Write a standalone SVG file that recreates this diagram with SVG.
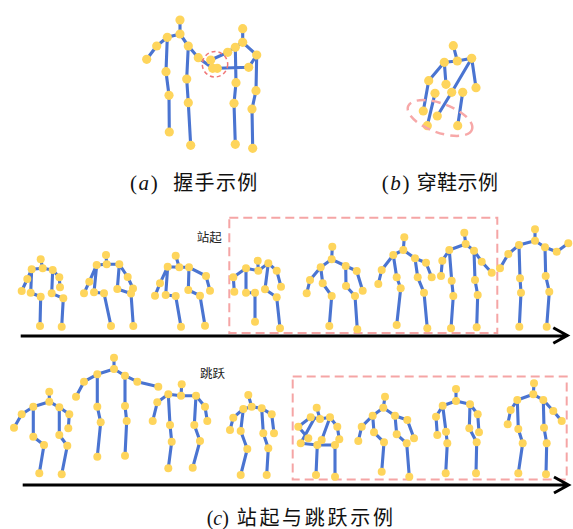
<svg xmlns="http://www.w3.org/2000/svg" width="573" height="529" viewBox="0 0 573 529">
  <style>
    .bone { fill: none; stroke: #4a74d1; stroke-width: 3.1; stroke-linecap: round; stroke-linejoin: round; }
    .j { fill: #fed55c; }
    .box { fill: none; stroke: #f5a5a5; stroke-width: 2; stroke-dasharray: 9 5; }
    .ring { fill: none; stroke: #f07777; stroke-width: 1.5; stroke-dasharray: 4 3; }
    .oval { fill: none; stroke: #f7a8a8; stroke-width: 2.5; stroke-dasharray: 9 6; }
    .axis { fill: none; stroke: #000; stroke-width: 3; }
    .cap { font-size: 20px; fill: #111; }
    .lat { font-family: "Liberation Serif", "DejaVu Serif", serif; font-size: 21px; letter-spacing: 1.6px; }
    .lat.tight { font-size: 20px; letter-spacing: 0; }
    .it { font-style: italic; }
    .cjk { font-family: "Noto Sans CJK SC", sans-serif; }
    .tag { font-family: "Noto Sans CJK SC", sans-serif; font-size: 12.5px; fill: #222; }
  </style>
  <defs>
    <circle id="d" r="4"/>
    <circle id="D" r="4.6"/>
  </defs>

  <rect width="573" height="529" fill="#fff"/>

  <!-- (a) handshake -->
  <g id="handshake-left">
    <path class="bone" d="M180,20L180,34M146.7,59.3L156.7,46L167.3,37.3L180,34L188.3,46L198.3,57.7L212.7,68.3M167.3,37.3L166,71.7L169,95.3L169.3,132M188.3,46L186.7,79L188.3,102.7L190.7,145.3"/>
    <g class="j">
      <use href="#D" x="180" y="20"/><use href="#D" x="180" y="34"/><use href="#D" x="167.3" y="37.3"/>
      <use href="#D" x="156.7" y="46"/><use href="#D" x="146.7" y="59.3"/><use href="#D" x="188.3" y="46"/>
      <use href="#D" x="198.3" y="57.7"/><use href="#D" x="212.7" y="68.3"/><use href="#D" x="166" y="71.7"/>
      <use href="#D" x="169" y="95.3"/><use href="#D" x="169.3" y="132"/><use href="#D" x="186.7" y="79"/>
      <use href="#D" x="188.3" y="102.7"/><use href="#D" x="190.7" y="145.3"/>
    </g>
  </g>
  <g id="handshake-right">
    <path class="bone" d="M242.7,28.7L242.7,42.3M210.7,60L227.7,52.3L235.3,47.3L242.7,42.3L256.7,55L248.7,67.3L217.3,68.3M235.3,47.3L236,82.7L234,103.3L235.3,144.3M256.7,55L256,90.7L252,109L252.7,148.3"/>
    <g class="j">
      <use href="#D" x="242.7" y="28.7"/><use href="#D" x="242.7" y="42.3"/><use href="#D" x="235.3" y="47.3"/>
      <use href="#D" x="227.7" y="52.3"/><use href="#D" x="210.7" y="60"/><use href="#D" x="256.7" y="55"/>
      <use href="#D" x="248.7" y="67.3"/><use href="#D" x="217.3" y="68.3"/><use href="#D" x="236" y="82.7"/>
      <use href="#D" x="234" y="103.3"/><use href="#D" x="235.3" y="144.3"/><use href="#D" x="256" y="90.7"/>
      <use href="#D" x="252" y="109"/><use href="#D" x="252.7" y="148.3"/>
    </g>
  </g>
  <circle id="handshake-mark" class="ring" cx="215" cy="64.3" r="12.7"/>

  <!-- (b) putting on shoes -->
  <g id="shoes">
    <path class="bone" d="M453.3,45.7L457.3,61M444.3,62.3L457.3,61L471.7,58.3M444.3,62.3L428.7,80.7L423.3,111M444.3,62.3L446,84.3M471.7,58.3L476,87.7M471.7,58.3L451.7,92.3L437.3,116M435,93.3L427.3,125.7M462.7,92.3L457.7,125.7"/>
    <g class="j">
      <use href="#D" x="453.3" y="45.7"/><use href="#D" x="457.3" y="61"/><use href="#D" x="444.3" y="62.3"/>
      <use href="#D" x="471.7" y="58.3"/><use href="#D" x="428.7" y="80.7"/><use href="#D" x="446" y="84.3"/>
      <use href="#D" x="435" y="93.3"/><use href="#D" x="451.7" y="92.3"/><use href="#D" x="462.7" y="92.3"/>
      <use href="#D" x="476" y="87.7"/><use href="#D" x="423.3" y="111"/><use href="#D" x="437.3" y="116"/>
      <use href="#D" x="427.3" y="125.7"/><use href="#D" x="457.7" y="125.7"/>
    </g>
  </g>
  <ellipse id="shoes-mark" class="oval" cx="440" cy="118" rx="34" ry="14.5" transform="rotate(20 440 118)"/>

  <!-- captions a / b -->
  <text class="cap" x="130" y="190"><tspan class="lat">(</tspan><tspan class="lat it">a</tspan><tspan class="lat">)</tspan><tspan class="cjk" x="173.3" letter-spacing="1.3">握手示例</tspan></text>
  <text class="cap" x="381.7" y="190"><tspan class="lat">(</tspan><tspan class="lat it">b</tspan><tspan class="lat">)</tspan><tspan class="cjk" x="416.7" letter-spacing="0.4">穿鞋示例</tspan></text>

  <!-- (c) standing up -->
  <text class="tag" x="196.7" y="241.5">站起</text>
  <rect class="box" x="229.3" y="217.7" width="268" height="115.3"/>

  <g id="stand-1">
    <path class="bone" d="M40.7,259.3L42.7,268.3M21.7,291L27.3,279L31.7,269.3L42.7,268.3L52.7,270L59.3,277.3L60,287.3M31.7,269.3L30.7,292.7L40.7,296.7L40,326M52.7,270L51.7,293.3L63.3,298.3L61.7,326.7"/>
    <g class="j">
      <use href="#d" x="40.7" y="259.3"/><use href="#d" x="42.7" y="268.3"/><use href="#d" x="31.7" y="269.3"/>
      <use href="#d" x="52.7" y="270"/><use href="#d" x="27.3" y="279"/><use href="#d" x="21.7" y="291"/>
      <use href="#d" x="59.3" y="277.3"/><use href="#d" x="60" y="287.3"/><use href="#d" x="30.7" y="292.7"/>
      <use href="#d" x="51.7" y="293.3"/><use href="#d" x="40.7" y="296.7"/><use href="#d" x="63.3" y="298.3"/>
      <use href="#d" x="40" y="326"/><use href="#d" x="61.7" y="326.7"/>
    </g>
  </g>
  <g id="stand-2">
    <path class="bone" d="M106,255L106.7,264.3M84,293.3L89.3,281.7L96.7,265L106.7,264.3L119.3,264.3L127.7,277L133,288.5M96.7,265L94,292.3L104,293.3L111,326M119.3,264.3L117.3,289L131,293.5L133.3,326"/>
    <g class="j">
      <use href="#d" x="106" y="255"/><use href="#d" x="106.7" y="264.3"/><use href="#d" x="96.7" y="265"/>
      <use href="#d" x="119.3" y="264.3"/><use href="#d" x="89.3" y="281.7"/><use href="#d" x="84" y="293.3"/>
      <use href="#d" x="127.7" y="277"/><use href="#d" x="133" y="288.5"/><use href="#d" x="94" y="292.3"/>
      <use href="#d" x="104" y="293.3"/><use href="#d" x="111" y="326"/><use href="#d" x="117.3" y="289"/>
      <use href="#d" x="131" y="293.5"/><use href="#d" x="133.3" y="326"/>
    </g>
  </g>
  <g id="stand-3">
    <path class="bone" d="M175.7,255.7L179.3,267.3M155,295.7L160,283.3L167.7,266.7L179.3,267.3L189,267.3L206,276L210,290.7M167.7,266.7L165.7,295L175.7,296L181,326.7M189,267.3L188.3,290L200,295.7L205,325.7"/>
    <g class="j">
      <use href="#d" x="175.7" y="255.7"/><use href="#d" x="179.3" y="267.3"/><use href="#d" x="167.7" y="266.7"/>
      <use href="#d" x="189" y="267.3"/><use href="#d" x="160" y="283.3"/><use href="#d" x="155" y="295.7"/>
      <use href="#d" x="206" y="276"/><use href="#d" x="210" y="290.7"/><use href="#d" x="165.7" y="295"/>
      <use href="#d" x="175.7" y="296"/><use href="#d" x="181" y="326.7"/><use href="#d" x="188.3" y="290"/>
      <use href="#d" x="200" y="295.7"/><use href="#d" x="205" y="325.7"/>
    </g>
  </g>
  <g id="stand-4">
    <path class="bone" d="M257.7,260.7L258.3,270.7M234.3,291.7L233.3,277.3L246,268.3L258.3,270.7L268.3,263.3L276.7,270.7L281,286.7M246,268.3L246,292.7L255,292.7L255,321.7M268.3,263.3L265,289.3L276.7,297.3L280,328.3"/>
    <g class="j">
      <use href="#d" x="257.7" y="260.7"/><use href="#d" x="258.3" y="270.7"/><use href="#d" x="246" y="268.3"/>
      <use href="#d" x="268.3" y="263.3"/><use href="#d" x="233.3" y="277.3"/><use href="#d" x="234.3" y="291.7"/>
      <use href="#d" x="276.7" y="270.7"/><use href="#d" x="281" y="286.7"/><use href="#d" x="246" y="292.7"/>
      <use href="#d" x="255" y="292.7"/><use href="#d" x="255" y="321.7"/><use href="#d" x="265" y="289.3"/>
      <use href="#d" x="276.7" y="297.3"/><use href="#d" x="280" y="328.3"/>
    </g>
  </g>
  <g id="stand-5">
    <path class="bone" d="M332.3,246.7L331.7,259.3M306.7,293.3L310,280L320.7,267.3L331.7,259.3L345.7,266L356.7,271L362.7,290.7M320.7,267.3L322.7,283.3L331.7,296L329.3,326M345.7,266L346,286L355,296L357.3,329.3"/>
    <g class="j">
      <use href="#d" x="332.3" y="246.7"/><use href="#d" x="331.7" y="259.3"/><use href="#d" x="320.7" y="267.3"/>
      <use href="#d" x="345.7" y="266"/><use href="#d" x="310" y="280"/><use href="#d" x="306.7" y="293.3"/>
      <use href="#d" x="356.7" y="271"/><use href="#d" x="362.7" y="290.7"/><use href="#d" x="322.7" y="283.3"/>
      <use href="#d" x="331.7" y="296"/><use href="#d" x="329.3" y="326"/><use href="#d" x="346" y="286"/>
      <use href="#d" x="355" y="296"/><use href="#d" x="357.3" y="329.3"/>
    </g>
  </g>
  <g id="stand-6">
    <path class="bone" d="M404.3,237.3L403.3,250M378.3,284L381.7,270L393.3,255L403.3,250L415,258.3L426,262.7L431.7,277.3M393.3,255L396.7,277.3L400.7,288.3L396.7,325M415,258.3L417.7,277.3L424,292.7L427.3,328.3"/>
    <g class="j">
      <use href="#d" x="404.3" y="237.3"/><use href="#d" x="403.3" y="250"/><use href="#d" x="393.3" y="255"/>
      <use href="#d" x="415" y="258.3"/><use href="#d" x="381.7" y="270"/><use href="#d" x="378.3" y="284"/>
      <use href="#d" x="426" y="262.7"/><use href="#d" x="431.7" y="277.3"/><use href="#d" x="396.7" y="277.3"/>
      <use href="#d" x="400.7" y="288.3"/><use href="#d" x="396.7" y="325"/><use href="#d" x="417.7" y="277.3"/>
      <use href="#d" x="424" y="292.7"/><use href="#d" x="427.3" y="328.3"/>
    </g>
  </g>
  <g id="stand-7">
    <path class="bone" d="M464.3,232.7L465.7,244M441,276L442.3,260.7L449.3,250L465.7,244L474,250.7L481.7,261.7L491.7,272.7M449.3,250L451.7,280.7L453.3,296L451,328.3M474,250.7L475,280L477.7,295L476.7,327.3"/>
    <g class="j">
      <use href="#d" x="464.3" y="232.7"/><use href="#d" x="465.7" y="244"/><use href="#d" x="449.3" y="250"/>
      <use href="#d" x="474" y="250.7"/><use href="#d" x="442.3" y="260.7"/><use href="#d" x="441" y="276"/>
      <use href="#d" x="481.7" y="261.7"/><use href="#d" x="491.7" y="272.7"/><use href="#d" x="451.7" y="280.7"/>
      <use href="#d" x="453.3" y="296"/><use href="#d" x="451" y="328.3"/><use href="#d" x="475" y="280"/>
      <use href="#d" x="477.7" y="295"/><use href="#d" x="476.7" y="327.3"/>
    </g>
  </g>
  <g id="stand-8">
    <path class="bone" d="M535,229.3L535,240.7M500,268.3L508.3,254L519,245L535,240.7L545,247.3L556.7,251.7L568.3,243.3M519,245L520,278.3L521,292.7L519.3,326.7M545,247.3L545.7,276L549.3,291.7L546.7,326.7"/>
    <g class="j">
      <use href="#d" x="535" y="229.3"/><use href="#d" x="535" y="240.7"/><use href="#d" x="519" y="245"/>
      <use href="#d" x="545" y="247.3"/><use href="#d" x="508.3" y="254"/><use href="#d" x="500" y="268.3"/>
      <use href="#d" x="556.7" y="251.7"/><use href="#d" x="568.3" y="243.3"/><use href="#d" x="520" y="278.3"/>
      <use href="#d" x="521" y="292.7"/><use href="#d" x="519.3" y="326.7"/><use href="#d" x="545.7" y="276"/>
      <use href="#d" x="549.3" y="291.7"/><use href="#d" x="546.7" y="326.7"/>
    </g>
  </g>

  <!-- (c) jumping -->
  <text class="tag" x="200" y="378">跳跃</text>
  <rect class="box" x="292.7" y="376.5" width="274" height="103"/>

  <g id="jump-1">
    <path class="bone" d="M49.3,391.7L49.3,401.7M14,427.7L21.7,414.3L33.3,406.7L49.3,401.7L59.3,407.3L69.3,414.3L68.3,428.3M33.3,406.7L33.3,436.7L44,445L39.3,473.3M59.3,407.3L59.3,435L67.3,445.7L61.7,474.3"/>
    <g class="j">
      <use href="#d" x="49.3" y="391.7"/><use href="#d" x="49.3" y="401.7"/><use href="#d" x="33.3" y="406.7"/>
      <use href="#d" x="59.3" y="407.3"/><use href="#d" x="21.7" y="414.3"/><use href="#d" x="14" y="427.7"/>
      <use href="#d" x="69.3" y="414.3"/><use href="#d" x="68.3" y="428.3"/><use href="#d" x="33.3" y="436.7"/>
      <use href="#d" x="44" y="445"/><use href="#d" x="39.3" y="473.3"/><use href="#d" x="59.3" y="435"/>
      <use href="#d" x="67.3" y="445.7"/><use href="#d" x="61.7" y="474.3"/>
    </g>
  </g>
  <g id="jump-2">
    <path class="bone" d="M114,357.7L114,369M76,396.7L84,381.7L97.3,374.3L114,369L125,375.7L137.3,381.7L158.3,386.7M97.3,374.3L97.3,406.7L100.7,422.3L97.3,456.7M125,375.7L125,406L126.7,421L125,455.7"/>
    <g class="j">
      <use href="#d" x="114" y="357.7"/><use href="#d" x="114" y="369"/><use href="#d" x="97.3" y="374.3"/>
      <use href="#d" x="125" y="375.7"/><use href="#d" x="84" y="381.7"/><use href="#d" x="76" y="396.7"/>
      <use href="#d" x="137.3" y="381.7"/><use href="#d" x="158.3" y="386.7"/><use href="#d" x="97.3" y="406.7"/>
      <use href="#d" x="100.7" y="422.3"/><use href="#d" x="97.3" y="456.7"/><use href="#d" x="125" y="406"/>
      <use href="#d" x="126.7" y="421"/><use href="#d" x="125" y="455.7"/>
    </g>
  </g>
  <g id="jump-3">
    <path class="bone" d="M181.7,384.3L181,395.7M152.7,421L157.3,402.3L168.3,394.3L181,395.7L196,395.7L205,406.7L207.3,421M168.3,394.3L170,425L171.7,441.7L168.3,468.3M196,395.7L194.3,425L200,441L192.7,467.7"/>
    <g class="j">
      <use href="#d" x="181.7" y="384.3"/><use href="#d" x="181" y="395.7"/><use href="#d" x="168.3" y="394.3"/>
      <use href="#d" x="196" y="395.7"/><use href="#d" x="157.3" y="402.3"/><use href="#d" x="152.7" y="421"/>
      <use href="#d" x="205" y="406.7"/><use href="#d" x="207.3" y="421"/><use href="#d" x="170" y="425"/>
      <use href="#d" x="171.7" y="441.7"/><use href="#d" x="168.3" y="468.3"/><use href="#d" x="194.3" y="425"/>
      <use href="#d" x="200" y="441"/><use href="#d" x="192.7" y="467.7"/>
    </g>
  </g>
  <g id="jump-4">
    <path class="bone" d="M248.3,395L251.7,406.7M230,430L233.3,417.7L243.3,409L251.7,406.7L261.7,408.3L271.7,414.3L274,433.3M243.3,409L240.7,431L247.3,449L240.7,475M261.7,408.3L263.3,433.3L268.3,448.3L266.7,475"/>
    <g class="j">
      <use href="#d" x="248.3" y="395"/><use href="#d" x="251.7" y="406.7"/><use href="#d" x="243.3" y="409"/>
      <use href="#d" x="261.7" y="408.3"/><use href="#d" x="233.3" y="417.7"/><use href="#d" x="230" y="430"/>
      <use href="#d" x="271.7" y="414.3"/><use href="#d" x="274" y="433.3"/><use href="#d" x="240.7" y="431"/>
      <use href="#d" x="247.3" y="449"/><use href="#d" x="240.7" y="475"/><use href="#d" x="263.3" y="433.3"/>
      <use href="#d" x="268.3" y="448.3"/><use href="#d" x="266.7" y="475"/>
    </g>
  </g>
  <g id="jump-5">
    <path class="bone" d="M316.7,407.7L320,419M310.7,417.3L320,419L330,417.3M310.7,417.3L298.3,426.7L308.3,438.3M314,419L300.7,443.3M330,417.3L321.7,440M330,417.3L337.3,426.7L339.3,439.3M300.7,443.3L317.3,445L335,445M317.3,445L316,475M335,445L335,476.7"/>
    <g class="j">
      <use href="#d" x="316.7" y="407.7"/><use href="#d" x="310.7" y="417.3"/><use href="#d" x="320" y="419"/>
      <use href="#d" x="330" y="417.3"/><use href="#d" x="298.3" y="426.7"/><use href="#d" x="337.3" y="426.7"/>
      <use href="#d" x="308.3" y="438.3"/><use href="#d" x="321.7" y="440"/><use href="#d" x="300.7" y="443.3"/>
      <use href="#d" x="339.3" y="439.3"/><use href="#d" x="317.3" y="445"/><use href="#d" x="335" y="445"/>
      <use href="#d" x="316" y="475"/><use href="#d" x="335" y="476.7"/>
    </g>
  </g>
  <g id="jump-6">
    <path class="bone" d="M385,396.7L383.3,407.7M358.3,441L361.7,426.7L372.7,415.7L383.3,407.7L395,415.7L407.3,420L414,438.3M372.7,415.7L374,432.3L384,442.3L381.7,471.7M395,415.7L396.7,434.3L406.7,443.3L409.3,476.7"/>
    <g class="j">
      <use href="#d" x="385" y="396.7"/><use href="#d" x="383.3" y="407.7"/><use href="#d" x="372.7" y="415.7"/>
      <use href="#d" x="395" y="415.7"/><use href="#d" x="361.7" y="426.7"/><use href="#d" x="358.3" y="441"/>
      <use href="#d" x="407.3" y="420"/><use href="#d" x="414" y="438.3"/><use href="#d" x="374" y="432.3"/>
      <use href="#d" x="384" y="442.3"/><use href="#d" x="381.7" y="471.7"/><use href="#d" x="396.7" y="434.3"/>
      <use href="#d" x="406.7" y="443.3"/><use href="#d" x="409.3" y="476.7"/>
    </g>
  </g>
  <g id="jump-7">
    <path class="bone" d="M456,389L456,401M437.3,435L436,416.7L442.7,405.7L456,401L470,404.3L477.7,414.3L479,432.3M442.7,405.7L446,431.7L447.3,443.3L445.7,473.3M470,404.3L469.3,428.3L476.7,442.3L476,473.3"/>
    <g class="j">
      <use href="#d" x="456" y="389"/><use href="#d" x="456" y="401"/><use href="#d" x="442.7" y="405.7"/>
      <use href="#d" x="470" y="404.3"/><use href="#d" x="436" y="416.7"/><use href="#d" x="437.3" y="435"/>
      <use href="#d" x="477.7" y="414.3"/><use href="#d" x="479" y="432.3"/><use href="#d" x="446" y="431.7"/>
      <use href="#d" x="447.3" y="443.3"/><use href="#d" x="445.7" y="473.3"/><use href="#d" x="469.3" y="428.3"/>
      <use href="#d" x="476.7" y="442.3"/><use href="#d" x="476" y="473.3"/>
    </g>
  </g>
  <g id="jump-8">
    <path class="bone" d="M534,383.3L533.3,394.3M507.7,424.3L510.7,410L517.3,400L533.3,394.3L543.3,400L553.3,411L561.7,421M517.3,400L518.3,429L522.7,443.3L518.3,473.3M543.3,400L544,427.7L546.7,443.3L546,474.3"/>
    <g class="j">
      <use href="#d" x="534" y="383.3"/><use href="#d" x="533.3" y="394.3"/><use href="#d" x="517.3" y="400"/>
      <use href="#d" x="543.3" y="400"/><use href="#d" x="510.7" y="410"/><use href="#d" x="507.7" y="424.3"/>
      <use href="#d" x="553.3" y="411"/><use href="#d" x="561.7" y="421"/><use href="#d" x="518.3" y="429"/>
      <use href="#d" x="522.7" y="443.3"/><use href="#d" x="518.3" y="473.3"/><use href="#d" x="544" y="427.7"/>
      <use href="#d" x="546.7" y="443.3"/><use href="#d" x="546" y="474.3"/>
    </g>
  </g>

  <!-- time axes -->
  <g id="axes">
    <path class="axis" d="M20.7,336L566,336M553.3,327.7L567.3,335.5L553.3,343.3"/>
    <path class="axis" d="M22.7,485L567,485M554,477L568.5,485L554,493"/>
  </g>

  <!-- caption c -->
  <text class="cap" x="206.7" y="524.5"><tspan class="lat tight">(</tspan><tspan class="lat tight it">c</tspan><tspan class="lat tight">)</tspan><tspan class="cjk" x="236.7" letter-spacing="2.7">站起与跳跃示例</tspan></text>
</svg>
